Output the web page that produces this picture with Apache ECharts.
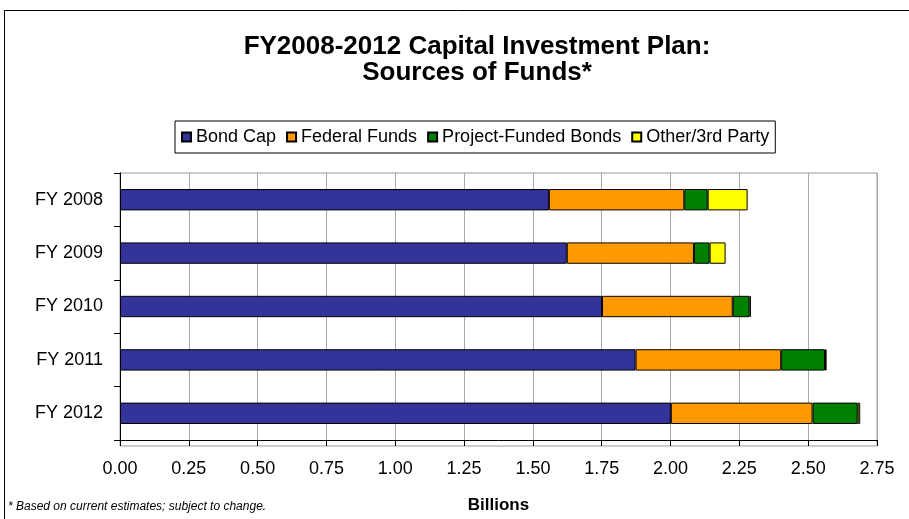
<!DOCTYPE html>
<html>
<head>
<meta charset="utf-8">
<script src="https://cdn.jsdelivr.net/npm/echarts@6/dist/echarts.min.js"></script>
<style>
  html, body { margin: 0; padding: 0; background: #fff; }
  #chart { width: 909px; height: 519px; }
</style>
</head>
<body>
<div id="chart"></div>
<script>
// Fiscal years shown top to bottom
const years = ['FY 2008', 'FY 2009', 'FY 2010', 'FY 2011', 'FY 2012'];

// Sources of funds, in billions of dollars
const bondCap = [1.558, 1.623, 1.751, 1.873, 2.001];
const federalFunds = [0.492, 0.462, 0.475, 0.529, 0.515];
const projectFundedBonds = [0.085, 0.057, 0.061, 0.159, 0.164];
const otherThirdParty = [0.145, 0.058, 0.005, 0.006, 0.009];

const seriesNames = ['Bond Cap', 'Federal Funds', 'Project-Funded Bonds', 'Other/3rd Party'];
const seriesData = [bondCap, federalFunds, projectFundedBonds, otherThirdParty];
const seriesColors = ['#333399', '#FF9900', '#008000', '#FFFF00'];

const FONT = 'Liberation Sans, Arial, sans-serif';

const chart = echarts.init(document.getElementById('chart'), null, { renderer: 'canvas' });

chart.setOption({
  animation: false,
  backgroundColor: '#fff',
  textStyle: { fontFamily: FONT, color: '#000' },
  graphic: [
    {
      type: 'rect',
      shape: { x: 4.5, y: 10.5, width: 950, height: 600 },
      style: { fill: 'none', stroke: '#000', lineWidth: 1 },
      silent: true
    },
    {
      type: 'text',
      x: 477, y: 47,
      style: {
        text: 'FY2008-2012 Capital Investment Plan:',
        font: 'bold 26px ' + FONT,
        fill: '#000',
        textAlign: 'center',
        textVerticalAlign: 'middle'
      }
    },
    {
      type: 'text',
      x: 477, y: 73,
      style: {
        text: 'Sources of Funds*',
        font: 'bold 26px ' + FONT,
        fill: '#000',
        textAlign: 'center',
        textVerticalAlign: 'middle'
      }
    },
    {
      type: 'text',
      x: 8, y: 507,
      style: {
        text: '* Based on current estimates; subject to change.',
        font: 'italic 12px ' + FONT,
        fill: '#000',
        textAlign: 'left',
        textVerticalAlign: 'middle'
      }
    },
    {
      type: 'rect',
      shape: { x: 120, y: 173, width: 757, height: 273 },
      style: { fill: 'none', stroke: '#9a9a9a', lineWidth: 1 },
      silent: true,
      z: -1
    }
  ],
  legend: {
    data: seriesNames,
    left: 175,
    top: 121,
    orient: 'horizontal',
    itemWidth: 9,
    itemHeight: 9,
    itemGap: 10,
    padding: [7, 6, 7, 6],
    borderColor: '#000',
    borderWidth: 1,
    icon: 'rect',
    textStyle: { fontFamily: FONT, fontSize: 18, color: '#000' },
    selectedMode: false
  },
  grid: {
    left: 120,
    right: 32,
    top: 173,
    bottom: 73,
    containLabel: false
  },
  xAxis: {
    type: 'value',
    min: 0,
    max: 2.75,
    interval: 0.25,
    name: 'Billions',
    nameLocation: 'middle',
    nameGap: 57,
    nameTextStyle: { fontFamily: FONT, fontSize: 17, fontWeight: 'bold', color: '#000' },
    axisLine: { show: true, lineStyle: { color: '#000', width: 1 } },
    axisTick: { show: true, inside: false, length: 6, lineStyle: { color: '#000' } },
    axisLabel: {
      fontFamily: FONT,
      fontSize: 18,
      color: '#000',
      margin: 20,
      formatter: v => v.toFixed(2)
    },
    splitLine: { show: true, lineStyle: { color: '#a8a8a8', width: 1 } }
  },
  yAxis: {
    type: 'category',
    data: years,
    inverse: true,
    axisLine: { show: true, lineStyle: { color: '#000', width: 1 } },
    axisTick: { show: true, inside: false, length: 6, lineStyle: { color: '#000' } },
    axisLabel: { fontFamily: FONT, fontSize: 18, color: '#000', margin: 17 },
    splitLine: { show: false }
  },
  series: seriesNames.map((name, i) => ({
    name: name,
    type: 'bar',
    stack: 'funds',
    data: seriesData[i],
    barCategoryGap: '60%',
    itemStyle: {
      color: seriesColors[i],
      borderColor: '#000',
      borderWidth: 1
    },
    emphasis: { disabled: true }
  }))
});
</script>
</body>
</html>
